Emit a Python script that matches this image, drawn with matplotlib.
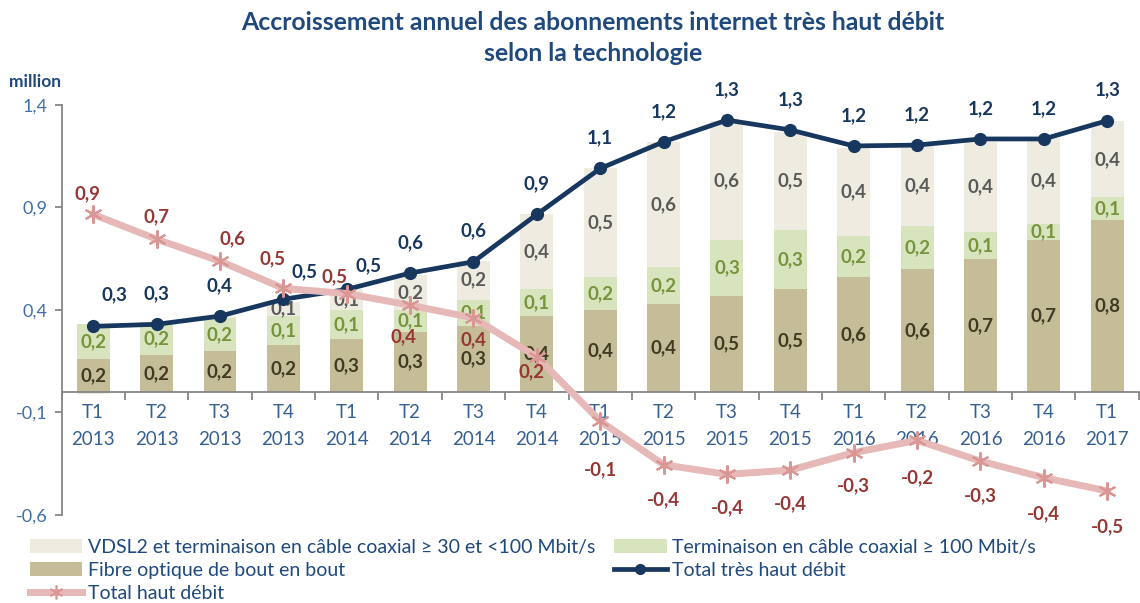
import numpy as np
import matplotlib
matplotlib.use('Agg')
import matplotlib.pyplot as plt
from matplotlib.patches import Patch
from matplotlib.lines import Line2D

plt.rcParams['font.family'] = ['Lato', 'DejaVu Sans']

#data (million subscriptions)
quarters = ['T1', 'T2', 'T3', 'T4', 'T1', 'T2', 'T3', 'T4', 'T1',
            'T2', 'T3', 'T4', 'T1', 'T2', 'T3', 'T4', 'T1']
years = ['2013', '2013', '2013', '2013', '2014', '2014', '2014', '2014', '2015',
         '2015', '2015', '2015', '2016', '2016', '2016', '2016', '2017']
fibre = [0.16, 0.18, 0.20, 0.23, 0.26, 0.29, 0.32, 0.37, 0.40,
         0.43, 0.47, 0.50, 0.56, 0.60, 0.65, 0.74, 0.84]
coax100 = [0.17, 0.16, 0.16, 0.14, 0.14, 0.11, 0.13, 0.13, 0.16,
           0.18, 0.27, 0.29, 0.20, 0.21, 0.13, 0.08, 0.11]
vdsl = [-0.01, 0.0, 0.01, 0.07, 0.10, 0.17, 0.19, 0.37, 0.53,
        0.61, 0.58, 0.48, 0.43, 0.39, 0.44, 0.42, 0.37]
total_thd = [0.32, 0.33, 0.37, 0.452, 0.50, 0.58, 0.635, 0.866, 1.09,
             1.22, 1.326, 1.278, 1.20, 1.204, 1.234, 1.234, 1.323]
total_hd = [0.866, 0.745, 0.638, 0.505, 0.48, 0.423, 0.361, 0.171, -0.142,
            -0.355, -0.402, -0.381, -0.296, -0.236, -0.337, -0.418, -0.483]

labels_legend = ['VDSL2 et terminaison en câble coaxial \u2265 30 et <100 Mbit/s',
                 'Terminaison en câble coaxial \u2265 100 Mbit/s',
                 'Fibre optique de bout en bout',
                 'Total très haut débit',
                 'Total haut débit']

c_fibre = '#C4BD97'
c_coax = '#D7E4BD'
c_vdsl = '#EEECE1'
c_navy = '#17375E'
c_pink = '#E6B9B8'
c_blue = '#376092'

def fr(v):
    return ('%.1f' % v).replace('.', ',')

fig = plt.figure(figsize=(11.4, 6.03), dpi=100)
ax = fig.add_axes([0.054, 0.146, 0.945, 0.68])

x = np.arange(len(quarters))
fibre = np.array(fibre)
coax100 = np.array(coax100)
vdsl = np.array(vdsl)
w = 0.52

ax.bar(x, fibre, w, color=c_fibre, zorder=2)
ax.bar(x, coax100, w, bottom=fibre, color=c_coax, zorder=2)
vdsl_bottom = np.where(vdsl < 0, 0, fibre + coax100)
ax.bar(x, vdsl, w, bottom=vdsl_bottom, color=c_vdsl, zorder=2)

#segment labels
for i in x:
    if fibre[i] >= 0.05:
        ax.text(i, fibre[i] / 2, fr(fibre[i]), ha='center', va='center',
                fontsize=13.5, fontweight='bold', color='#403A22', zorder=3)
    if coax100[i] >= 0.05:
        ax.text(i, fibre[i] + coax100[i] / 2, fr(coax100[i]), ha='center', va='center',
                fontsize=13.5, fontweight='bold', color='#77933C', zorder=3)
    if vdsl[i] >= 0.05:
        ax.text(i, fibre[i] + coax100[i] + vdsl[i] / 2, fr(vdsl[i]), ha='center',
                va='center', fontsize=13.5, fontweight='bold', color='#595959', zorder=3)

#total tres haut debit line
ax.plot(x, total_thd, color=c_navy, linewidth=3.4, marker='o', markersize=8.5,
        zorder=4, clip_on=False)
shift_thd = [15, 0, 0, 15, 16, 0, 0, 0, 0, 0, 0, 0, 0, 0, 0, 0, 0]
up_thd = [23, 22, 22, 20, 17, 22, 22, 22, 22, 22, 22, 22, 22, 22, 22, 22, 22]
for i in x:
    ax.annotate(fr(total_thd[i]), (i, total_thd[i]), xytext=(shift_thd[i], up_thd[i]),
                textcoords='offset points', ha='center', va='center',
                fontsize=13.5, fontweight='bold', color=c_navy, zorder=6)

#total haut debit line
ax.plot(x, total_hd, color=c_pink, linewidth=5, marker=(6, 2, 0), markersize=13,
        markeredgecolor='#DA9694', markeredgewidth=1.5, zorder=5, clip_on=False)
off_hd = [(-4, 15), (0, 16), (9, 16), (-8, 21), (-9, 12), (-5, -23), (0, -16), (-4, -11),
          (0, -35), (0, -25), (0, -24), (0, -24), (0, -24), (0, -27), (0, -25), (0, -26), (0, -26)]
for i in x:
    ax.annotate(fr(total_hd[i]), (i, total_hd[i]), xytext=off_hd[i],
                textcoords='offset points', ha='center', va='center',
                fontsize=13.5, fontweight='bold', color='#953735', zorder=6)

#axes
ax.set_xlim(-0.5, len(x) - 0.5)
ax.set_ylim(-0.6, 1.4)
ax.spines['top'].set_visible(False)
ax.spines['right'].set_visible(False)
ax.spines['bottom'].set_position(('data', 0))
ax.spines['bottom'].set_color('#868686')
ax.spines['left'].set_color('#868686')
ax.spines['bottom'].set_linewidth(1.3)
ax.spines['left'].set_linewidth(1.3)

ax.set_xticks(x)
ax.set_xticklabels([q + '\n' + y for q, y in zip(quarters, years)], linespacing=1.7)
ax.set_xticks(np.arange(-0.5, len(x)), minor=True)
ax.tick_params(axis='x', which='major', length=0, pad=9, labelsize=13.5, labelcolor=c_blue)
ax.tick_params(axis='x', which='minor', length=6, width=1.3, color='#868686', direction='out')

yt = [-0.6, -0.1, 0.4, 0.9, 1.4]
ax.set_yticks(yt)
ax.set_yticklabels([fr(v) for v in yt])
ax.tick_params(axis='y', length=5, width=1.3, color='#868686', labelsize=13,
               labelcolor='#3F6FA8', pad=5)

fig.text(0.008, 0.864, 'million', fontsize=12.5, fontweight='bold', color='#1F497D',
         ha='left', va='center')

fig.text(0.52, 0.962, 'Accroissement annuel des abonnements internet très haut débit',
         ha='center', va='center', fontsize=17.8, fontweight='bold', color='#1F497D')
fig.text(0.52, 0.912, 'selon la technologie',
         ha='center', va='center', fontsize=17.8, fontweight='bold', color='#1F497D')

#legend in two blocks
h_vdsl = Patch(facecolor=c_vdsl, edgecolor='none')
h_coax = Patch(facecolor=c_coax, edgecolor='none')
h_fibre = Patch(facecolor=c_fibre, edgecolor='none')
h_thd = Line2D([], [], color=c_navy, linewidth=3.4, marker='o', markersize=7)
h_hd = Line2D([], [], color=c_pink, linewidth=5, marker=(6, 2, 0), markersize=10,
              markeredgecolor='#DA9694', markeredgewidth=1.2)

leg_kw = dict(loc='upper left', frameon=False, fontsize=14, labelcolor='#1F497D',
              handlelength=2.7, handleheight=0.75, handletextpad=0.3,
              labelspacing=0.3, borderpad=0, borderaxespad=0)
leg1 = fig.legend([h_vdsl, h_fibre, h_hd], [labels_legend[0], labels_legend[2], labels_legend[4]],
                  bbox_to_anchor=(0.026, 0.106), **leg_kw)
leg2 = fig.legend([h_coax, h_thd], [labels_legend[1], labels_legend[3]],
                  bbox_to_anchor=(0.5386, 0.106), **leg_kw)

fig.savefig('out.png', dpi=100)
